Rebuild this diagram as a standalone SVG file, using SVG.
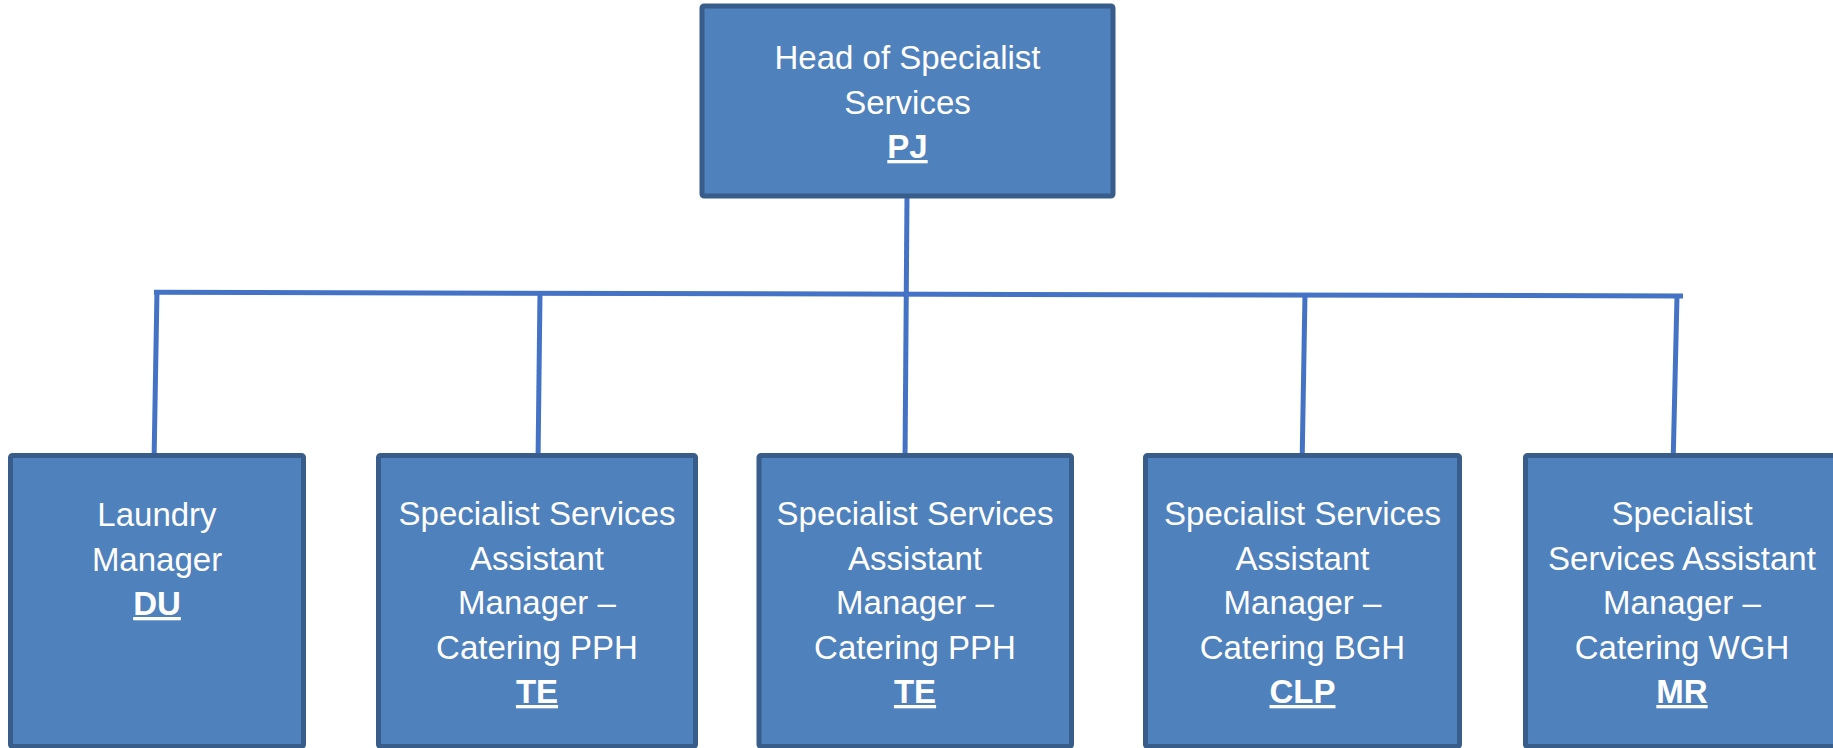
<svg xmlns="http://www.w3.org/2000/svg" width="1833" height="748" viewBox="0 0 1833 748">
<style>
.box{fill:#4F81BD;stroke:#385D8A;stroke-width:5}
.t{font-family:"Liberation Sans",Arial,sans-serif;font-size:33px;fill:#FFFFFF;text-anchor:middle}
.b{font-weight:bold;text-decoration:underline}
.c{stroke:#4472C4;stroke-width:5;fill:none}
</style>
<rect width="1833" height="748" fill="#FFFFFF"/>
<g id="connectors">
<line class="c" x1="154" y1="292.3" x2="1683" y2="296"/>
<line class="c" x1="907" y1="196" x2="905" y2="463"/>
<line class="c" x1="157" y1="290" x2="154" y2="463"/>
<line class="c" x1="540" y1="292" x2="538" y2="463"/>
<line class="c" x1="1305" y1="294" x2="1302" y2="468"/>
<line class="c" x1="1677" y1="296" x2="1673" y2="467"/>
</g>
<g id="head">
<rect class="box" x="702" y="6" width="411" height="190" rx="2"/>
<text class="t" x="907.5" y="69">Head of Specialist</text>
<text class="t" x="907.5" y="113.5">Services</text>
<text class="t b" x="907.5" y="158">PJ</text>
</g>
<g id="laundry">
<rect class="box" x="10.5" y="455.5" width="293" height="291" rx="2"/>
<text class="t" x="157" y="526">Laundry</text>
<text class="t" x="157" y="570.5">Manager</text>
<text class="t b" x="157" y="615">DU</text>
</g>
<g id="ssam1">
<rect class="box" x="378.5" y="455.5" width="317" height="291" rx="2"/>
<text class="t" x="537" y="525">Specialist Services</text>
<text class="t" x="537" y="569.5">Assistant</text>
<text class="t" x="537" y="614">Manager –</text>
<text class="t" x="537" y="658.5">Catering PPH</text>
<text class="t b" x="537" y="703">TE</text>
</g>
<g id="ssam2">
<rect class="box" x="759" y="455.5" width="312.5" height="291" rx="2"/>
<text class="t" x="915" y="525">Specialist Services</text>
<text class="t" x="915" y="569.5">Assistant</text>
<text class="t" x="915" y="614">Manager –</text>
<text class="t" x="915" y="658.5">Catering PPH</text>
<text class="t b" x="915" y="703">TE</text>
</g>
<g id="ssam3">
<rect class="box" x="1145.5" y="455.5" width="314" height="291" rx="2"/>
<text class="t" x="1302.5" y="525">Specialist Services</text>
<text class="t" x="1302.5" y="569.5">Assistant</text>
<text class="t" x="1302.5" y="614">Manager –</text>
<text class="t" x="1302.5" y="658.5">Catering BGH</text>
<text class="t b" x="1302.5" y="703">CLP</text>
</g>
<g id="ssam4">
<rect class="box" x="1525.5" y="455.5" width="313" height="291" rx="2"/>
<text class="t" x="1682" y="525">Specialist</text>
<text class="t" x="1682" y="569.5">Services Assistant</text>
<text class="t" x="1682" y="614">Manager –</text>
<text class="t" x="1682" y="658.5">Catering WGH</text>
<text class="t b" x="1682" y="703">MR</text>
</g>
</svg>
